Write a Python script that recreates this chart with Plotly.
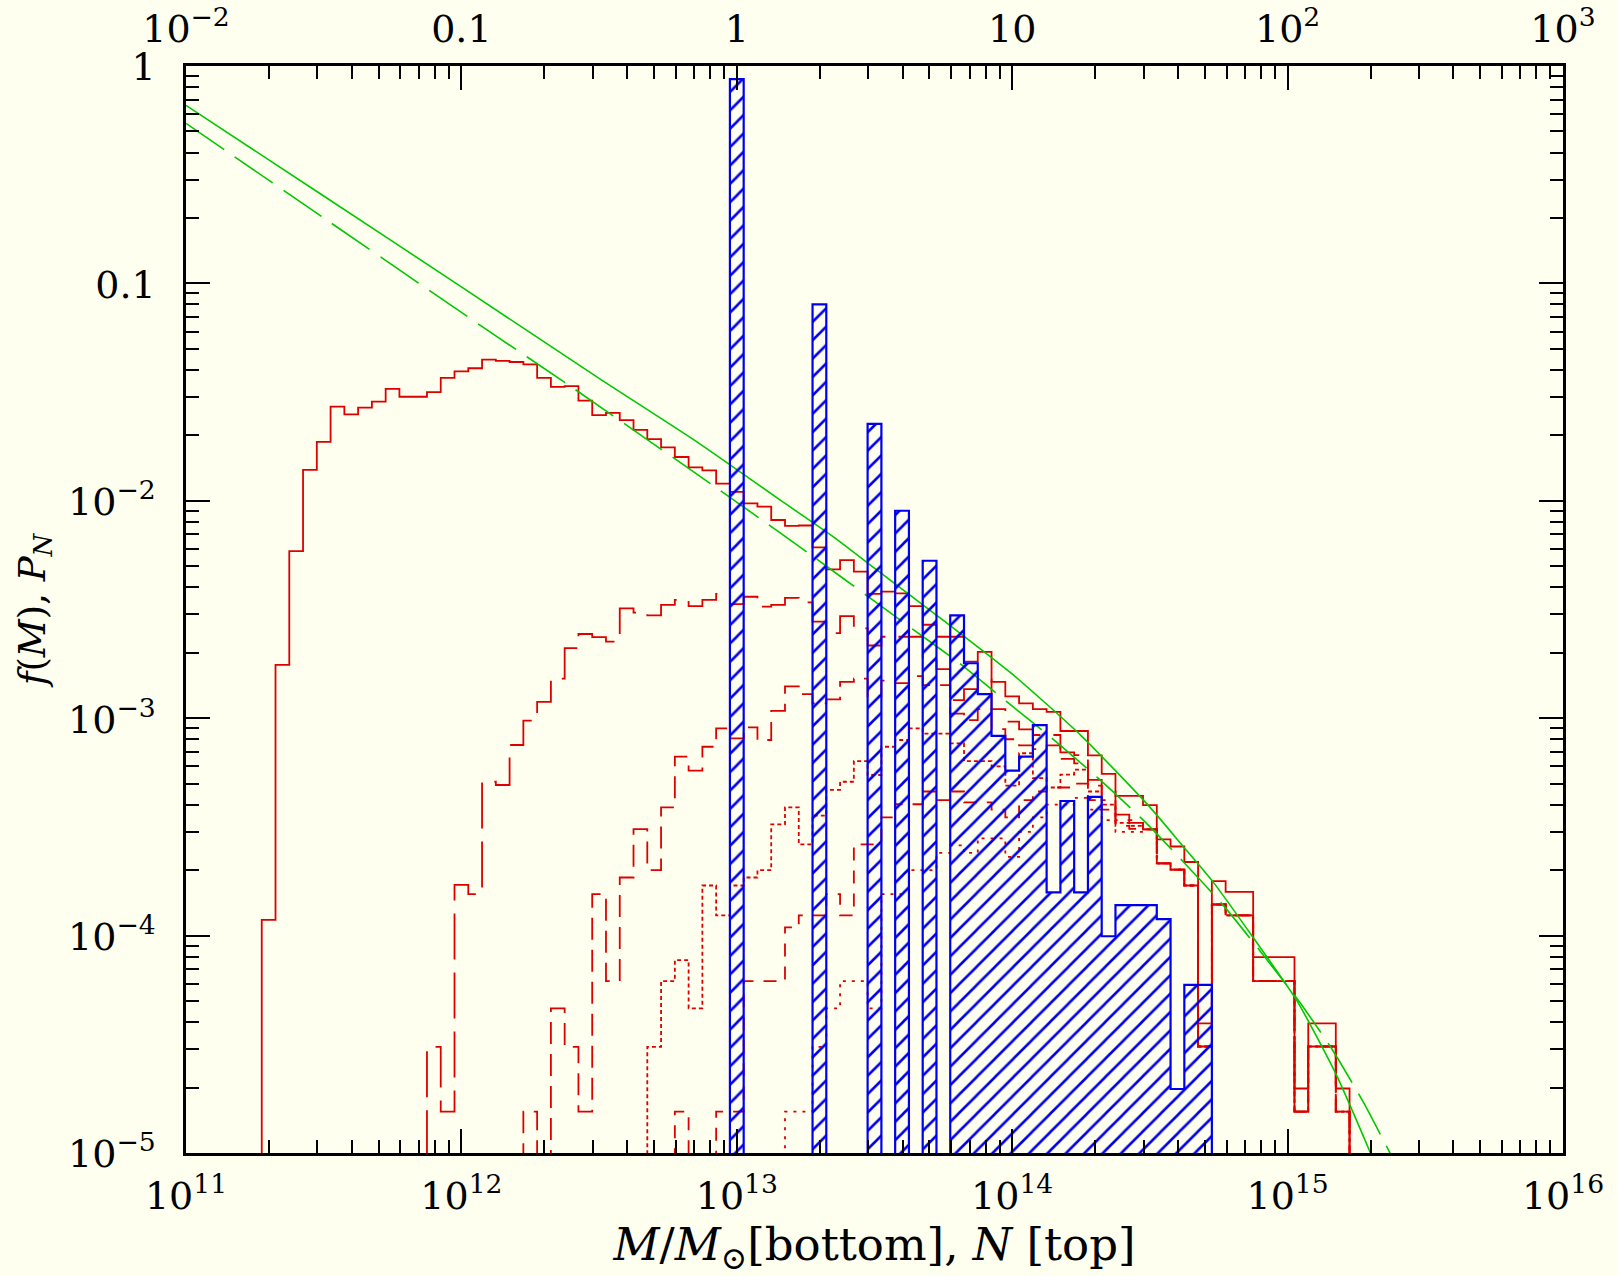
import plotly.graph_objects as go

# ---------------- data ----------------
BIN = 0.05  # histogram bin width in dex

# total halo mass function histogram (solid red), first bin left edge log10(M)
tot_start = 11.275
tot_vals = [1.18e-4, 1.76e-3, 5.87e-3, 0.01387, 0.01866, 0.0271, 0.0250, 0.0268, 0.0286, 0.0327,
            0.0301, 0.0301, 0.0316, 0.0368, 0.0394, 0.0407, 0.0446, 0.0440, 0.0435, 0.0424,
            0.0368, 0.0334, 0.0337, 0.0289, 0.0248, 0.0254, 0.0235, 0.0212, 0.0192, 0.0176,
            0.0159, 0.01425, 0.0138, 0.0120, 0.0110, 0.00973, 0.0094, 0.00816, 0.00766, 0.0077,
            0.0061, 0.00484, 0.00534, 0.00472, 0.00373, 0.00382, 0.00375, 0.00328, 0.00269, 0.00237,
            0.00237, 0.00182, 0.00202, 0.00147, 0.00126, 0.00117, 0.00110, 0.00107, 8.73e-4, 8.73e-4,
            6.75e-4, 5.54e-4, 4.39e-4, 4.39e-4, 3.98e-4, 2.77e-4, 2.57e-4, 2.18e-4, 3.95e-5, 1.78e-4,
            1.59e-4, 1.59e-4, 7.96e-5, 7.96e-5, 7.96e-5, 1.98e-5, 3.95e-5, 3.95e-5, 1.98e-5]

# long-dashed red histogram
a_start = 11.875
a_vals = [3.08e-5, 1.55e-5, 1.71e-4, 1.55e-4, 5.10e-4, 4.93e-4, 7.53e-4, 9.75e-4, 1.19e-3, 1.52e-3,
          2.10e-3, 2.44e-3, 2.36e-3, 2.25e-3, 3.20e-3, 3.06e-3, 2.97e-3, 3.32e-3, 3.50e-3, 3.28e-3,
          3.50e-3, 3.73e-3, 3.35e-3, 3.62e-3, 3.26e-3, 3.32e-3, 3.58e-3, 3.41e-3, 2.78e-3, 2.46e-3,
          2.95e-3, 2.59e-3, 2.16e-3, 2.37e-3, 2.37e-3, 2.37e-3, 1.85e-3, 1.68e-3, 1.21e-3, 1.36e-3,
          1.51e-3, 1.10e-3, 9.64e-4, 8.89e-4, 8.37e-4, 8.37e-4, 6.97e-4, 6.77e-4, 5.20e-4, 4.60e-4,
          3.60e-4, 3.40e-4, 3.08e-4, 2.15e-4, 2.01e-4, 1.70e-4, 3.09e-5, 1.39e-4, 1.24e-4, 1.24e-4,
          6.18e-5, 6.18e-5, 6.18e-5, 1.55e-5, 3.09e-5, 3.09e-5, 1.55e-5]

# dashed red histogram
b_start = 12.225
b_vals = [1.55e-5, 0, 4.63e-5, 3.08e-5, 1.55e-5, 1.55e-4, 6.18e-5, 1.85e-4, 3.09e-4, 2.00e-4,
          3.89e-4, 6.65e-4, 5.74e-4, 7.39e-4, 8.98e-4, 8.07e-4, 9.08e-4, 7.94e-4, 1.08e-3, 1.40e-3,
          1.29e-3, 1.17e-3, 1.22e-3, 1.47e-3, 1.52e-3, 1.26e-3, 1.49e-3, 1.45e-3, 1.56e-3, 1.42e-3,
          1.42e-3, 1.05e-3, 9.80e-4, 1.10e-3, 8.90e-4, 8.00e-4, 7.50e-4, 7.20e-4, 7.50e-4, 6.50e-4,
          6.20e-4, 4.90e-4, 4.20e-4, 3.40e-4, 3.30e-4, 3.08e-4, 2.15e-4, 2.01e-4, 1.70e-4, 3.09e-5,
          1.39e-4, 1.24e-4, 1.24e-4, 6.18e-5, 6.18e-5, 6.18e-5, 1.55e-5, 3.09e-5, 3.09e-5, 1.55e-5]

# dotted red histogram
c_start = 12.675
c_vals = [3.08e-5, 6.18e-5, 7.72e-5, 4.63e-5, 1.70e-4, 1.24e-4, 1.70e-4, 1.85e-4, 2.00e-4, 3.25e-4,
          3.89e-4, 2.63e-4, 3.56e-4, 4.68e-4, 5.10e-4, 6.35e-4, 5.48e-4, 7.39e-4, 7.94e-4, 8.98e-4,
          8.50e-4, 8.50e-4, 7.66e-4, 6.35e-4, 6.35e-4, 6.00e-4, 4.90e-4, 6.90e-4, 5.30e-4, 4.80e-4,
          5.50e-4, 5.80e-4, 4.60e-4, 4.00e-4, 3.30e-4, 3.20e-4, 3.08e-4, 2.15e-4, 2.01e-4, 1.70e-4,
          3.09e-5, 1.39e-4, 1.24e-4, 1.24e-4, 6.18e-5, 6.18e-5, 6.18e-5, 1.55e-5, 3.09e-5, 3.09e-5,
          1.55e-5]

# short-dashed red histogram
d_start = 12.775
d_vals = [1.55e-5, 0, 0, 1.55e-5, 1.55e-5, 6.18e-5, 6.18e-5, 6.18e-5, 1.09e-4, 1.24e-4,
          1.24e-4, 1.55e-4, 1.24e-4, 2.63e-4, 2.63e-4, 3.50e-4, 4.02e-4, 4.02e-4, 4.60e-4, 4.20e-4,
          4.60e-4, 4.10e-4, 4.10e-4, 3.80e-4, 3.50e-4, 4.20e-4, 4.60e-4, 4.80e-4, 4.80e-4, 5.00e-4,
          4.20e-4, 3.80e-4, 3.20e-4, 3.10e-4, 3.08e-4, 2.15e-4, 2.01e-4, 1.70e-4, 3.09e-5, 1.39e-4,
          1.24e-4, 1.24e-4, 6.18e-5, 6.18e-5, 6.18e-5, 1.55e-5, 3.09e-5, 3.09e-5, 1.55e-5]

# sparse-dotted red histogram
e_start = 13.175
e_vals = [1.55e-5, 1.55e-5, 3.08e-5, 4.63e-5, 6.18e-5, 6.18e-5, 4.63e-5, 1.55e-4, 1.55e-4, 2.00e-4,
          2.00e-4, 2.40e-4, 2.60e-4, 2.40e-4, 2.80e-4, 2.80e-4, 2.30e-4, 3.00e-4, 3.50e-4, 4.00e-4,
          4.00e-4, 4.30e-4, 3.80e-4, 3.40e-4, 3.00e-4, 3.00e-4, 3.08e-4, 2.15e-4, 2.01e-4, 1.70e-4,
          3.09e-5, 1.39e-4, 1.24e-4, 1.24e-4, 6.18e-5, 6.18e-5, 6.18e-5, 1.55e-5, 3.09e-5, 3.09e-5,
          1.55e-5]

# P_N histogram (blue, hatched) on the top N axis; first bin left edge log10(N)
pn_start = -0.025
pn_vals = [0.87, 0, 0, 0, 0, 0, 0.080, 0, 0, 0,
           0.0226, 0, 0.0090, 0, 0.0053, 0, 0.00297, 0.00179, 0.00129, 0.00083,
           0.000574, 0.000665, 0.00093, 0.000158, 0.000416, 0.000158, 0.000435, 0.0000993, 0.000138, 0.000138,
           0.000138, 0.000119, 0.0000197, 0.0000593, 0.0000593]

# analytic mass functions (green): log10 M, log10 f
g_solid_logm = [11.0, 11.5, 12.0, 12.5, 12.867, 13.157, 13.363, 13.5, 13.75, 14.004, 14.25,
                14.499, 14.621, 14.730, 14.875, 15.032, 15.177, 15.301, 15.40]
g_solid_logf = [-0.181, -0.598, -1.016, -1.437, -1.739, -1.996, -2.177, -2.31, -2.55, -2.801, -3.08,
                -3.408, -3.590, -3.754, -4.009, -4.296, -4.641, -5.0, -5.3]
g_dash_logm = [11.0, 11.5, 12.093, 12.389, 12.929, 13.109, 13.278, 13.502, 13.635, 13.810, 13.980,
               14.149, 14.312, 14.475, 14.621, 14.772, 15.038, 15.163, 15.274, 15.373, 15.45]
g_dash_logf = [-0.264, -0.699, -1.214, -1.467, -1.943, -2.104, -2.257, -2.464, -2.587, -2.748, -2.924,
               -3.097, -3.276, -3.468, -3.660, -3.869, -4.296, -4.526, -4.764, -5.003, -5.2]

# axis ticks
x_ticks = [1e11, 1e12, 1e13, 1e14, 1e15, 1e16]
x_ticktext = ["10<sup>11</sup>", "10<sup>12</sup>", "10<sup>13</sup>", "10<sup>14</sup>",
              "10<sup>15</sup>", "10<sup>16</sup>"]
n_ticks = [1e-2, 1e-1, 1, 10, 1e2, 1e3]
n_ticktext = ["10<sup>\u22122</sup>", "0.1", "1", "10", "10<sup>2</sup>", "10<sup>3</sup>"]
y_ticks = [1, 1e-1, 1e-2, 1e-3, 1e-4, 1e-5]
y_ticktext = ["1", "0.1", "10<sup>\u22122</sup>", "10<sup>\u22123</sup>", "10<sup>\u22124</sup>",
              "10<sup>\u22125</sup>"]

# ---------------- styles ----------------
BG = "#fffff0"
RED = "#dc0000"
GREEN = "#00c800"
BLUE = "#0000ee"
FONT = "DejaVu Serif"
FLOOR = 1e-8


def step_path(start, vals):
    xs = [10 ** start]
    ys = [FLOOR]
    for i, v in enumerate(vals):
        xs.append(10 ** (start + BIN * i))
        ys.append(v if v > 0 else FLOOR)
    end = 10 ** (start + BIN * len(vals))
    xs += [end, end]
    ys += [vals[-1] if vals[-1] > 0 else FLOOR, FLOOR]
    return xs, ys


def step_polygon(start, vals):
    xs, ys = [10 ** start], [FLOOR]
    for i, v in enumerate(vals):
        lo = 10 ** (start + BIN * i)
        hi = 10 ** (start + BIN * (i + 1))
        yv = v if v > 0 else FLOOR
        xs += [lo, hi]
        ys += [yv, yv]
    xs.append(10 ** (start + BIN * len(vals)))
    ys.append(FLOOR)
    return xs, ys


fig = go.Figure()

red_series = [
    (tot_start, tot_vals, "solid"),
    (a_start, a_vals, "46px,13px"),
    (b_start, b_vals, "22px,10px"),
    (c_start, c_vals, "4px,3px"),
    (d_start, d_vals, "13px,10px"),
    (e_start, e_vals, "3px,6px"),
]
for st, vals, dash in red_series:
    x, y = step_path(st, vals)
    fig.add_trace(go.Scatter(x=x, y=y, mode="lines", line=dict(color=RED, width=1.8, dash=dash, shape="hv"),
                             hoverinfo="skip"))

# blue hatched P_N histogram on top axis
px_, py_ = step_polygon(pn_start, pn_vals)
fig.add_trace(go.Scatter(x=px_, y=py_, xaxis="x2", yaxis="y", mode="lines", fill="toself",
                         fillcolor="rgba(0,0,0,0)",
                         fillpattern=dict(shape="/", fgcolor=BLUE, bgcolor="rgba(0,0,0,0)", size=13,
                                          solidity=0.2, fgopacity=1),
                         line=dict(color=BLUE, width=2.2), hoverinfo="skip"))

# green analytic curves
fig.add_trace(go.Scatter(x=[10 ** v for v in g_solid_logm], y=[10 ** v for v in g_solid_logf], mode="lines",
                         line=dict(color=GREEN, width=1.6, shape="spline", smoothing=0.6), hoverinfo="skip"))
fig.add_trace(go.Scatter(x=[10 ** v for v in g_dash_logm], y=[10 ** v for v in g_dash_logf], mode="lines",
                         line=dict(color=GREEN, width=1.6, dash="46px,13px", shape="spline", smoothing=0.6),
                         hoverinfo="skip"))


def minor_vals(lo, hi):
    out = []
    for p in range(lo, hi):
        for k in range(2, 10):
            out.append(k * 10.0 ** p)
    return out


axis_common = dict(showgrid=False, zeroline=False, showline=True, linecolor="black", linewidth=2.5,
                   ticks="inside", ticklen=24, tickwidth=2, tickcolor="black", tickmode="array",
                   automargin=False, tickfont=dict(family=FONT, size=38, color="black"))

fig.update_layout(
    width=1617, height=1276,
    margin=dict(l=186, r=54, t=66, b=123, pad=0),
    paper_bgcolor=BG, plot_bgcolor=BG,
    showlegend=False,
    font=dict(family=FONT, size=38, color="black"),
    xaxis=dict(type="log", range=[11, 16], tickvals=x_ticks, ticktext=x_ticktext, mirror=False,
               ticklabelstandoff=8,
               minor=dict(tickmode="array", tickvals=minor_vals(11, 16), ticks="inside", ticklen=13,
                          tickwidth=1.6, tickcolor="black", showgrid=False),
               title=dict(text="<i>M</i>/<i>M</i><sub>\u2299</sub>[bottom], <i>N</i> [top]",
                          font=dict(family=FONT, size=45), standoff=2),
               **axis_common),
    xaxis2=dict(type="log", range=[-2, 3], overlaying="x", side="top", anchor="y",
                tickvals=n_ticks, ticktext=n_ticktext, ticklabelstandoff=6,
                minor=dict(tickmode="array", tickvals=minor_vals(-2, 3), ticks="inside", ticklen=13,
                           tickwidth=1.6, tickcolor="black", showgrid=False),
                **axis_common),
    yaxis=dict(type="log", range=[-5, 0], tickvals=y_ticks, ticktext=y_ticktext, mirror="ticks",
               ticklabelstandoff=20, ticklabelshift=1,
               minor=dict(tickmode="array", tickvals=minor_vals(-5, 0), ticks="inside", ticklen=13,
                          tickwidth=1.6, tickcolor="black", showgrid=False),
               title=dict(text="<i>f</i>(<i>M</i>), <i>P<sub>N</sub></i>", font=dict(family=FONT, size=37),
                          standoff=12),
               **axis_common),
)

fig.write_html("out.html")
